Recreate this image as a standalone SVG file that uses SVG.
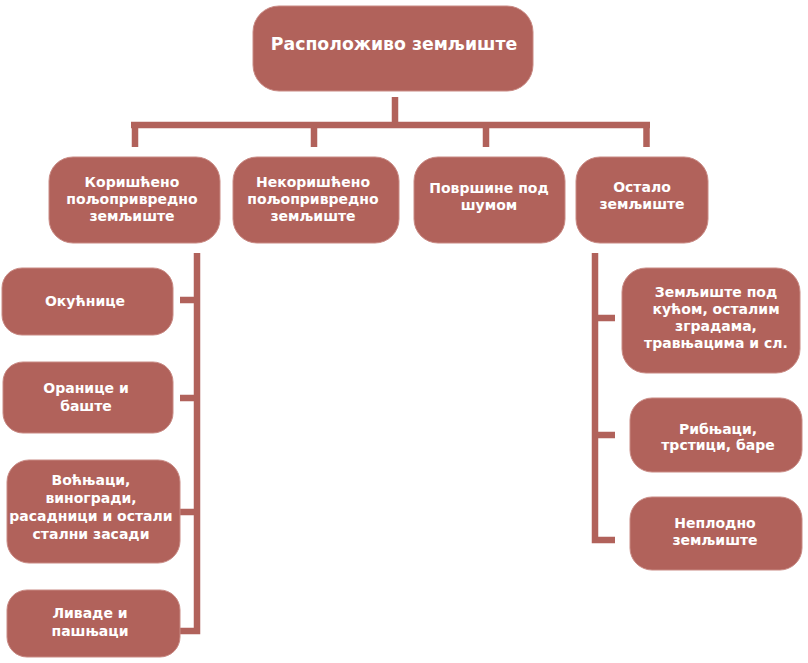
<svg xmlns="http://www.w3.org/2000/svg" width="808" height="663" viewBox="0 0 808 663">
<style>
.box{fill:#b1625b;stroke:#c98a84;stroke-width:1}
.ln{fill:none;stroke:#b1625b;stroke-width:6.5}
text{font-family:"DejaVu Sans",Verdana,sans-serif;font-weight:bold;fill:#ffffff;text-anchor:middle;font-size:14px}
.t{font-size:17.3px}
</style>
<rect width="808" height="663" fill="#ffffff"/>
<g id="connectors">
<path class="ln" d="M395,97V125M131,125H650M135,122V147M314,125V147M486,125V147M646.5,122V147"/>
<path class="ln" d="M197,253V631H180M180,300H197M180,398H197M180,512H197"/>
<path class="ln" d="M595,253V540H615M595,318H615M595,435H615"/>
</g>
<g id="n0"><rect class="box" x="253" y="6" width="280" height="85" rx="26"/><text class="t" x="394" y="50">Расположиво земљиште</text></g>
<g id="n1"><rect class="box" x="49" y="157" width="171" height="86" rx="24"/><text x="132" y="187">Коришћено</text><text x="132" y="204">пољопривредно</text><text x="132" y="221">земљиште</text></g>
<g id="n2"><rect class="box" x="233" y="157" width="166" height="86" rx="24"/><text x="313" y="187">Некоришћено</text><text x="313" y="204">пољопривредно</text><text x="313" y="221">земљиште</text></g>
<g id="n3"><rect class="box" x="414" y="157" width="151" height="86" rx="24"/><text x="489" y="193">Површине под</text><text x="489" y="210">шумом</text></g>
<g id="n4"><rect class="box" x="576" y="157" width="132" height="86" rx="24"/><text x="642" y="192">Остало</text><text x="642" y="209">земљиште</text></g>
<g id="n5"><rect class="box" x="2" y="268" width="171" height="67" rx="20"/><text x="85" y="306">Окућнице</text></g>
<g id="n6"><rect class="box" x="3" y="362" width="170" height="71" rx="20"/><text x="86" y="393">Оранице и</text><text x="86" y="411">баште</text></g>
<g id="n7"><rect class="box" x="7" y="460" width="173" height="103" rx="22"/><text x="91" y="485">Воћњаци,</text><text x="91" y="503">виногради,</text><text x="91" y="521">расадници и остали</text><text x="91" y="539">стални засади</text></g>
<g id="n8"><rect class="box" x="7" y="590" width="173" height="67" rx="20"/><text x="90" y="618">Ливаде и</text><text x="90" y="636">пашњаци</text></g>
<g id="n9"><rect class="box" x="622" y="268" width="178" height="105" rx="24"/><text x="716" y="297">Земљиште под</text><text x="716" y="314">кућом, осталим</text><text x="716" y="331">зградама,</text><text x="716" y="348">травњацима и сл.</text></g>
<g id="n10"><rect class="box" x="630" y="398" width="172" height="74" rx="22"/><text x="718" y="434">Рибњаци,</text><text x="718" y="450">трстици, баре</text></g>
<g id="n11"><rect class="box" x="630" y="497" width="172" height="73" rx="22"/><text x="715" y="528">Неплодно</text><text x="715" y="545">земљиште</text></g>
</svg>
